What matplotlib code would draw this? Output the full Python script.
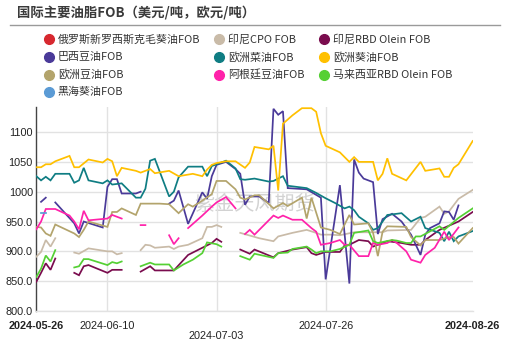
import numpy as np
import matplotlib
matplotlib.use("Agg")
import matplotlib.pyplot as plt
from matplotlib.lines import Line2D
from matplotlib.transforms import blended_transform_factory

nan = np.nan
START = np.datetime64("2024-05-26")

series_names = [
    "俄罗斯新罗西斯克毛葵油FOB", "印尼CPO FOB", "印尼RBD Olein FOB",
    "巴西豆油FOB", "欧洲菜油FOB", "欧洲葵油FOB",
    "欧洲豆油FOB", "阿根廷豆油FOB", "马来西亚RBD Olein FOB",
    "黑海葵油FOB",
]
series_colors = [
    "#D7282F", "#C9BBA8", "#7A0C4E",
    "#4A3A99", "#0F7D83", "#FFC000",
    "#B3A46C", "#FF22AA", "#55D034",
    "#5B9BD5",
]

# days since 2024-05-26; nan marks a break in the line
ru_sun_days = []
ru_sun_vals = []

idn_cpo_days = [0, 1, 2, 3, 4, 6, 8, 9, 11, 15, 16, 17, 18, 20, 22, 23, 24, 25, 28, 29, 30, 32,
                35, 36, 37, 38, 39, 41, 43, 47, 50, 51, 54, 57, 59, 60, 62, 64, 67, 71, 73, 74,
                79, 81, 82, 85, 86, 87, 89, 92]
idn_cpo_vals = [891, 899, 919, 908, 922, nan, 898, 896, 905, 900, 900, 895, 897, nan, 902, 911, 910,
                906, 908, 904, 908, 911, 922, 941, 941, 944, 941, nan, 931, 922, 917, 925, 931, 936,
                931, 928, 928, 927, 932, 932, 932, 935, 936, 956, 958, 975, 963, 967, 988, 1003]

idn_olein_days = [0, 1, 2, 3, 4, 6, 8, 9, 10, 11, 15, 16, 18, 20, 22, 24, 25, 29, 32, 35, 37, 38, 39,
                  41, 43, 45, 46, 50, 51, 54, 57, 58, 59, 61, 64, 65, 66, 68, 70, 71, 72, 74, 77,
                  79, 81, 82, 85, 89, 92]
idn_olein_vals = [849, 864, 880, 869, 888, nan, 864, 860, 875, 877, 864, 869, 869, nan, 866, 875, 868,
                  868, 894, 906, 914, 921, 916, nan, 903, 896, 903, 890, 897, 903, 907, 897, 894,
                  899, 899, 910, 911, 919, 917, 908, 911, 917, 914, 911, 911, 919, 936, 950, 966]

br_soy_days = [1, 2, 3, 4, 8, 9, 10, 14, 15, 16, 17, 18, 21, 22, 25, 28, 29, 30, 32, 35, 36, 37, 38,
               40, 42, 43, 44, 45, 47, 49, 50, 51, 52, 53, 57, 60, 61, 64, 66, 67, 68, 69, 71, 72,
               73, 75, 77, 79, 81, 82, 83, 85, 86, 87, 88, 89]
br_soy_vals = [983, 990, nan, 982, 947, 930, 950, 940, 1008, 1021, 1021, 997, 997, 1000, nan, 980,
               985, 1002, 946, 999, 988, 1026, 1045, 1050, 1038, 1030, 978, 992, 992, 981, 1139,
               1129, 1135, 1006, 1004, 990, 853, 1011, 846, 1054, 1032, 1022, 1016, 929, 954, 963,
               950, 928, 894, 928, 939, 947, 967, 966, 953, 977]

eu_rape_days = [0, 1, 2, 3, 4, 7, 8, 9, 10, 11, 14, 15, 16, 18, 21, 22, 23, 24, 25, 28, 29, 30, 32,
                35, 36, 37, 40, 42, 43, 44, 46, 49, 50, 52, 53, 57, 59, 61, 63, 65, 66, 67, 68, 70,
                71, 72, 74, 77, 79, 81, 82, 85, 86, 87, 88, 89, 92]
eu_rape_vals = [1026, 1019, 1025, 1019, 1030, 1030, 1015, 1019, 1040, 1019, 1014, 1019, 1012, 1014,
                990, 990, 1005, 1052, 1055, 992, 1000, 1024, 1042, 1042, 1026, 1043, 1052, 1039,
                1021, 1020, 1022, 1017, 1018, 1026, 1010, 1006, 998, 989, 981, 972, 975, 969, 958,
                947, 936, 939, 961, 964, 950, 958, 939, 931, 917, 933, 917, 925, 934]

eu_sun_days = [0, 1, 2, 3, 4, 7, 8, 9, 11, 14, 15, 16, 17, 18, 21, 22, 24, 25, 28, 30, 33, 35, 36,
               37, 38, 40, 42, 44, 45, 46, 49, 50, 51, 52, 54, 56, 58, 59, 60, 61, 64, 66, 67, 68,
               71, 72, 73, 74, 75, 78, 81, 82, 85, 86, 87, 88, 89, 92]
eu_sun_vals = [1041, 1041, 1046, 1046, 1051, 1060, 1041, 1041, 1054, 1049, 1055, 1051, 1026, 1040,
               1035, 1032, 1038, 1031, 1035, 1026, 1030, 1026, 1037, 1045, 1048, 1051, 1051, 1040,
               1049, 1075, 1071, 1077, 1002, 1114, 1128, 1140, 1140, 1134, 1098, 1077, 1066, 1050,
               1058, 1050, 1050, 1019, 1030, 1056, 1030, 1019, 1050, 1035, 1039, 1025, 1025, 1040,
               1046, 1085]

eu_soy_days = [0, 1, 2, 3, 4, 8, 9, 10, 11, 15, 16, 17, 18, 21, 22, 26, 28, 30, 32, 33, 35, 37, 38,
               40, 42, 43, 44, 46, 47, 50, 52, 53, 56, 57, 58, 60, 62, 64, 66, 67, 70, 71, 72, 73,
               74, 78, 79, 81, 82, 85, 87, 88, 89, 92]
eu_soy_vals = [941, 940, 930, 926, 945, 930, 924, 936, 950, 941, 966, 966, 972, 961, 980, 980, 979,
               964, 979, 975, 985, 996, 1018, 1018, 1004, 990, 987, 994, 994, 972, 981, 976, 990,
               955, 990, 940, 936, 929, 961, 945, 947, 931, 892, 933, 942, 941, 924, 910, 919, 919,
               924, 924, 913, 939]

ar_soy_days = [0, 1, 2, 4, 7, 8, 9, 10, 11, 15, 16, 18, 20, 22, 23, 25, 28, 29, 30, 31, 32, 35, 37,
               38, 40, 42, 43, 44, 45, 46, 50, 51, 52, 54, 56, 58, 59, 60, 62, 64, 65, 66, 68, 70,
               71, 72, 74, 75, 76, 78, 79, 81, 82, 84, 86, 87, 89]
ar_soy_vals = [937, 950, 971, 971, 960, 950, 937, 968, 952, 955, 961, 955, nan, 944, 944, nan, 927,
               912, 922, nan, 939, 960, 975, 982, 991, 972, nan, 929, 936, 928, 960, 956, 960, 953,
               953, 939, 933, 911, 914, 919, 911, 911, 892, 892, 914, 911, 914, 919, 914, 900, 886,
               881, 894, 906, 933, 919, 940]

my_olein_days = [0, 1, 2, 3, 4, 6, 8, 9, 10, 11, 15, 16, 17, 18, 20, 22, 24, 25, 28, 29, 31, 33, 35,
                 36, 38, 39, 41, 43, 45, 46, 50, 51, 53, 54, 57, 58, 59, 60, 62, 64, 66, 67, 70, 71,
                 72, 75, 76, 78, 79, 80, 81, 85, 86, 89, 92]
my_olein_vals = [857, 871, 893, 883, 902, nan, 873, 875, 887, 887, 877, 882, 880, 883, nan, 875, 881,
                 878, 878, 868, 878, 886, 897, 915, 912, 908, nan, 892, 886, 896, 889, 897, 898, 904,
                 908, 903, 897, 900, 900, 904, 911, 931, 935, 917, 914, 919, 918, 914, 914, 925, 925,
                 942, 936, 956, 972]

bs_sun_days = [1, 2]
bs_sun_vals = [965, 965]

series_days = [ru_sun_days, idn_cpo_days, idn_olein_days, br_soy_days, eu_rape_days,
               eu_sun_days, eu_soy_days, ar_soy_days, my_olein_days, bs_sun_days]
series_vals = [ru_sun_vals, idn_cpo_vals, idn_olein_vals, br_soy_vals, eu_rape_vals,
               eu_sun_vals, eu_soy_vals, ar_soy_vals, my_olein_vals, bs_sun_vals]

y_ticks = [800, 850, 900, 950, 1000, 1050, 1100]
y_tick_labels = ["800.0", "850.0", "900.0", "950.0", "1000", "1050", "1100"]
x_tick_dates = ["2024-05-26", "2024-06-10", "2024-07-03", "2024-07-26", "2024-08-26"]

plt.rcParams["font.family"] = ["Noto Sans CJK SC", "DejaVu Sans"]

W, H = 506, 343
fig = plt.figure(figsize=(W / 100, H / 100), dpi=100)
fig.patch.set_facecolor("white")


def fx(px):
    return px / W


def fy(py):
    return 1 - py / H


ax = fig.add_axes([fx(36.3), fy(311), fx(472.7) - fx(36.3), fy(107) - fy(311)])

# title and rule
fig.text(fx(17), fy(13), "国际主要油脂FOB（美元/吨，欧元/吨）", fontsize=9.6,
         fontweight="bold", color="#3a3a3a", va="center", ha="left")
fig.add_artist(Line2D([fx(10), fx(500)], [fy(25), fy(25)], color="#9a9a9a", lw=1.0))

# legend, three columns
col_x = [49.3, 219.5, 324.5]
row_y = [39.3, 57.0, 74.7, 92.3]
for i, (name, color) in enumerate(zip(series_names, series_colors)):
    cx = col_x[i % 3]
    cy = row_y[i // 3]
    fig.add_artist(Line2D([fx(cx)], [fy(cy)], marker="o", markersize=7.0,
                          markerfacecolor=color, markeredgecolor=color, lw=0))
    fig.text(fx(cx + 8.5), fy(cy), name, fontsize=7.9, color="#333333",
             va="center", ha="left", family=["Noto Sans CJK SC", "DejaVu Sans"])

# watermark
ax.text(0.5, 0.52, "紫金天风期货", transform=ax.transAxes, fontsize=14.5,
        color="#c4c4c4", alpha=0.75, ha="center", va="center", zorder=0)

# data lines
for days, vals, color in zip(series_days, series_vals, series_colors):
    if len(days) == 0:
        continue
    dates = START + np.array(days, dtype="timedelta64[D]")
    ax.plot(dates, np.array(vals, dtype=float), color=color, lw=1.25, zorder=3,
            solid_joinstyle="miter")

x0 = START
x1 = np.datetime64(x_tick_dates[-1])
ax.set_xlim(x0, x1)
ax.set_ylim(800, 1142)

ax.set_yticks(y_ticks)
ax.set_yticklabels(y_tick_labels, family=["Liberation Sans", "DejaVu Sans"],
                   fontsize=7.8, color="#222222")
ax.tick_params(axis="y", length=0, pad=2.5)
ax.yaxis.grid(True, color="#e2e2e2", lw=1.0, zorder=0)
ax.set_xticks([])

for d in x_tick_dates[1:-1]:
    ax.axvline(np.datetime64(d), color="#e2e2e2", lw=1.0, zorder=0)

for side in ["top", "right"]:
    ax.spines[side].set_visible(False)
ax.spines["bottom"].set_color("#e2e2e2")
ax.spines["bottom"].set_linewidth(1.0)
ax.spines["left"].set_color("#444444")
ax.spines["left"].set_linewidth(1.0)
ax.set_axisbelow(True)

# date labels along the bottom
trans = blended_transform_factory(ax.transData, fig.transFigure)
label_rows = [326, 326, 336, 326, 326]
label_bold = [True, False, False, False, True]
for d, py, bold in zip(x_tick_dates, label_rows, label_bold):
    ax.text(np.datetime64(d), fy(py), d, transform=trans, ha="center", va="center",
            fontsize=7.8, color="#222222", fontweight="bold" if bold else "normal",
            family=["Liberation Sans", "DejaVu Sans"], clip_on=False)

fig.savefig("out.png", dpi=100, facecolor="white")
